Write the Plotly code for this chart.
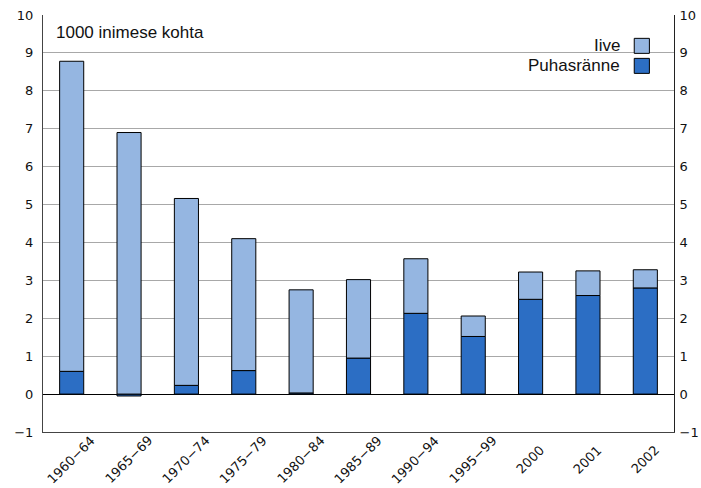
import plotly.graph_objects as go

categories = ["1960−64", "1965−69", "1970−74", "1975−79", "1980−84", "1985−89",
              "1990−94", "1995−99", "2000", "2001", "2002"]
puhasranne = [0.60, -0.05, 0.23, 0.62, 0.03, 0.95, 2.13, 1.52, 2.50, 2.60, 2.80]
iive = [8.18, 6.90, 4.93, 3.48, 2.72, 2.07, 1.44, 0.54, 0.72, 0.65, 0.48]
tick_vals = [-1, 0, 1, 2, 3, 4, 5, 6, 7, 8, 9, 10]

light = "#95b6e1"
dark = "#2c6ec4"

fig = go.Figure()
fig.add_trace(go.Bar(x=categories, y=puhasranne, name="Puhasränne",
                     marker=dict(color=dark, line=dict(color="black", width=1)),
                     width=0.42, showlegend=False))
fig.add_trace(go.Bar(x=categories, y=iive, name="Iive",
                     marker=dict(color=light, line=dict(color="black", width=1)),
                     width=0.42, showlegend=False))
# invisible trace for right axis
fig.add_trace(go.Scatter(x=categories, y=[None]*len(categories), yaxis="y2",
                         showlegend=False, hoverinfo="skip"))

axis_font = dict(family="DejaVu Sans", size=13, color="#111")
fig.update_layout(
    width=701, height=488,
    margin=dict(l=43, r=27, t=15, b=56),
    barmode="relative",
    plot_bgcolor="white", paper_bgcolor="white",
    xaxis=dict(type="category", categoryorder="array", categoryarray=categories,
               range=[-0.5, len(categories) - 0.5], showticklabels=False,
               showline=True, linecolor="#444", linewidth=1, ticks="",
               showgrid=False, automargin=False),
    yaxis=dict(range=[-1, 10], tickvals=tick_vals, tickfont=axis_font,
               showgrid=True, gridcolor="#a8a8a8", gridwidth=1,
               zeroline=True, zerolinecolor="black", zerolinewidth=1,
               showline=True, linecolor="#444", linewidth=1, ticks="",
               ticklabelstandoff=6, automargin=False),
    yaxis2=dict(range=[-1, 10], tickvals=tick_vals, tickfont=axis_font,
                overlaying="y", side="right", showgrid=False, zeroline=False,
                showline=True, linecolor="#222", linewidth=1, ticks="",
                ticklabelstandoff=2, automargin=False),
    showlegend=False,
)

# rotated category labels centred under each bar (category index on the x scale)
for i, cat in enumerate(categories):
    fig.add_annotation(text=cat, x=i, xref="x", yref="paper", y=-0.067,
                       xanchor="center", yanchor="middle", textangle=-45,
                       showarrow=False, font=axis_font)

fig.add_annotation(text="1000 inimese kohta", xref="paper", yref="paper",
                   x=0.018, y=0.985, xanchor="left", yanchor="top", showarrow=False,
                   font=dict(family="Liberation Sans", size=17, color="#111"))

# manual legend (text left of swatch)
legend_items = [("Iive", light), ("Puhasränne", dark)]
for i, (label, col) in enumerate(legend_items):
    yc = 0.926 - i * 0.048
    fig.add_annotation(text=label, xref="paper", yref="paper", x=0.917, y=yc,
                       xanchor="right", yanchor="middle", showarrow=False,
                       font=dict(family="Liberation Sans", size=17, color="#111"))
    fig.add_shape(type="rect", xref="paper", yref="paper",
                  x0=0.937, x1=0.961, y0=yc - 0.018, y1=yc + 0.018,
                  fillcolor=col, line=dict(color="black", width=1))

fig.write_html("out.html", config={"displayModeBar": False},
               post_script="document.body.style.margin='0';")
